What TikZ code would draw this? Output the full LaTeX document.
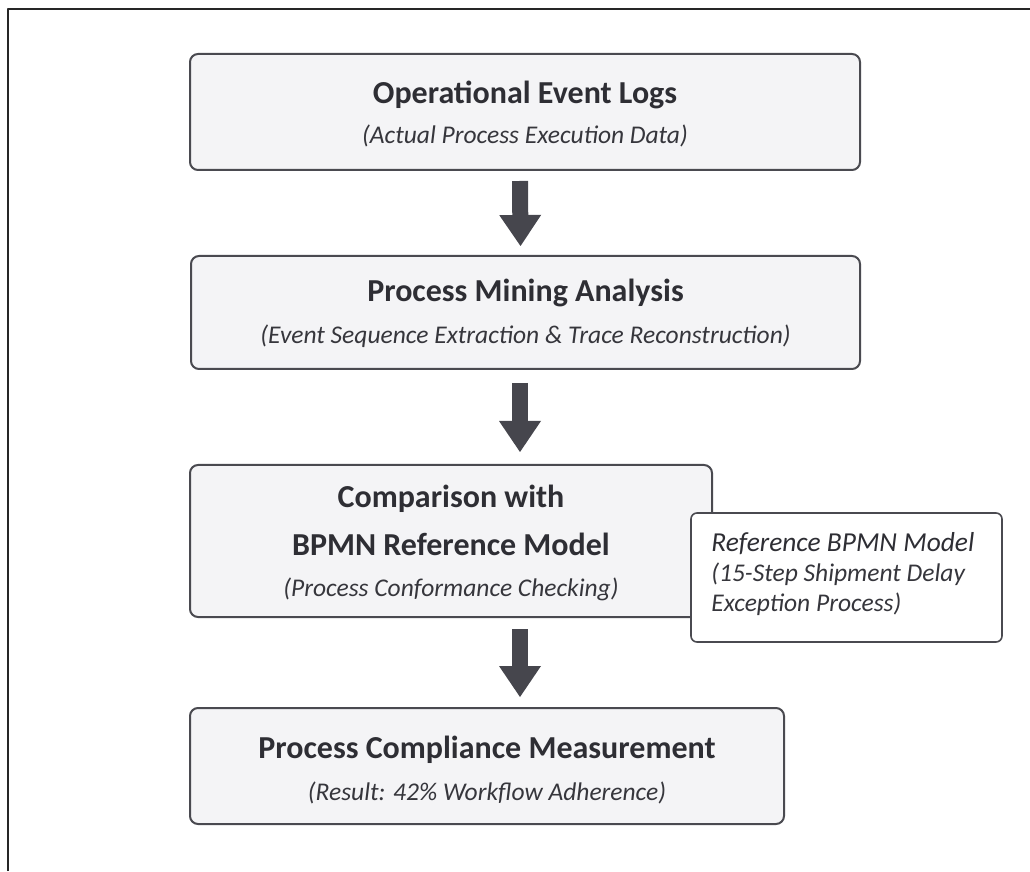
\documentclass[tikz,border=0pt]{standalone}
\usepackage{fontspec}
\setmainfont{Carlito}
\usetikzlibrary{arrows.meta,positioning}
\definecolor{boxfill}{HTML}{F4F4F6}
\definecolor{boxline}{HTML}{4A4A50}
\definecolor{ink}{HTML}{2E2E34}
\definecolor{subink}{HTML}{36363C}
\definecolor{arrowgray}{HTML}{46464D}

\begin{document}
\begin{tikzpicture}[line cap=round,line join=round,x=1pt,y=1pt,
  stage/.style={draw=boxline,fill=boxfill,line width=2pt,rounded corners=8pt,inner sep=0pt},
  refbox/.style={draw=boxline,fill=white,line width=1.6pt,rounded corners=6pt,inner sep=0pt},
  headtext/.style={anchor=base,inner sep=0pt,text=ink,font=\fontsize{32}{38}\selectfont\bfseries},
  subtext/.style={anchor=base,inner sep=0pt,text=subink,font=\fontsize{25.5}{30}\selectfont\itshape},
  reftext/.style={anchor=base west,inner sep=0pt,text=subink,font=\fontsize{25.5}{30}\selectfont\itshape},
  flow/.style={draw=arrowgray,line width=16pt,line cap=butt,-{Triangle[length=31pt,width=42pt,line width=0pt]}}]
\useasboundingbox (0,0) rectangle (1030,871);
% frame
\draw [line width=1.6pt,black!85,line cap=butt] (8,0)--(8,862)--(1030,862);
% boxes
\node [stage,minimum width=670pt,minimum height=116pt] (logs) at (525,759) {};
\node [stage,minimum width=669pt,minimum height=113pt] (mining) at (525.5,558.5) {};
\node [stage,minimum width=522pt,minimum height=152pt] (compare) at (451,330) {};
\node [refbox,minimum width=311pt,minimum height=129pt] (refmodel) at (846.5,293.5) {};
\node [stage,minimum width=594pt,minimum height=116pt] (measure) at (487,105) {};
% texts
\node [headtext] (logs-t) at ([yshift=-51pt]logs.north) {Operational Event Logs};
\node [subtext] (logs-s) at ([yshift=-91pt]logs.north) {(Actual Process Execution Data)};
\node [headtext] (mining-t) at ([yshift=-47pt]mining.north) {Process Mining Analysis};
\node [subtext] (mining-s) at ([yshift=-89pt]mining.north) {(Event Sequence Extraction \& Trace Reconstruction)};
\node [headtext] (compare-t1) at ([yshift=-44pt]compare.north) {Comparison with};
\node [headtext] (compare-t2) at ([yshift=-91pt]compare.north) {BPMN Reference Model};
\node [subtext] (compare-s) at ([yshift=-132pt]compare.north) {(Process Conformance Checking)};
\node [reftext,text=ink,font=\fontsize{27.4}{32}\selectfont\itshape] (ref-1) at ([xshift=21pt,yshift=-39pt]refmodel.north west) {Reference BPMN Model};
\node [reftext] (ref-2) at ([xshift=21pt,yshift=-69pt]refmodel.north west) {(15-Step Shipment Delay};
\node [reftext] (ref-3) at ([xshift=21pt,yshift=-99pt]refmodel.north west) {Exception Process)};
\node [headtext] (measure-t) at ([yshift=-51pt]measure.north) {Process Compliance Measurement};
\node [subtext] (measure-s) at ([yshift=-93pt]measure.north) {(Result: 42\% Workflow Adherence)};
% arrows
\draw [flow] ([xshift=-5pt,yshift=-10pt]logs.south)--([xshift=-5pt,yshift=9pt]mining.north);
\draw [flow] ([xshift=-5.5pt,yshift=-13pt]mining.south)--([xshift=69pt,yshift=12pt]compare.north);
\draw [flow] ([xshift=69pt,yshift=-11pt]compare.south)--([xshift=33pt,yshift=10pt]measure.north);
\end{tikzpicture}
\end{document}
